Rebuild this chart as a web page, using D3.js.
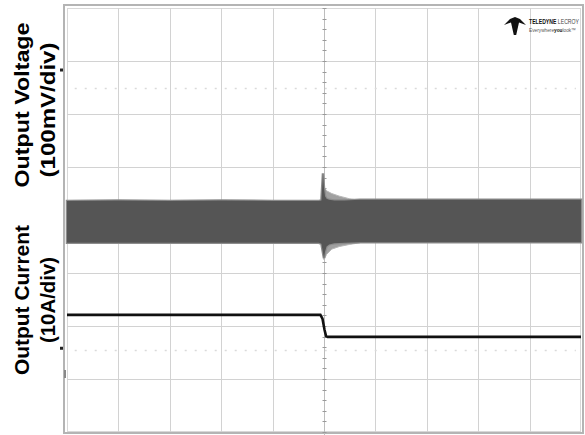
<!DOCTYPE html>
<meta charset="utf-8">
<style>
body { margin: 0; background: #fff; }
.title { font-family: Arial, "Liberation Sans", sans-serif; font-weight: bold; font-size: 20px; fill: #000; }
.grid line { stroke: #d2d2d2; stroke-width: 1px; }
.logo { font-family: Arial, "Liberation Sans", sans-serif; }
</style>
<svg width="585" height="435"></svg>
<script src="https://cdn.jsdelivr.net/npm/d3@7"></script>
<script>

// time in divisions (10 div across), voltage in mV (100 mV/div), current in A (10 A/div)
var voltTime = [0, 1, 2, 3, 4, 4.9, 4.95, 4.98, 5.0, 5.02, 5.05, 5.1, 5.2, 5.4, 5.7, 6, 7, 8, 9, 10];
var voltHigh = [36, 37, 36, 37, 36, 36, 37, 88, 60, 45, 40, 38, 37, 37, 38, 38, 38, 38, 38, 38];
var voltLow = [-43, -43, -43, -43, -43, -43, -45, -62, -72, -60, -50, -46, -44, -43, -42, -42, -42, -42, -42, -42];

var ringTime = [4.95, 5.0, 5.05, 5.15, 5.3, 5.5, 5.7];
var ringHigh = [36, 62, 55, 50, 45, 40, 37];
var ringLow = [-43, -75, -65, -55, -50, -46, -43];

var currTime = [0, 2, 4.93, 4.97, 5.01, 5.04, 5.07, 7, 10];
var currAmps = [20, 20, 20, 19.3, 17.2, 16.0, 15.85, 15.85, 15.85];

var voltOffset = 0;      // div
var currOffset = -3.79;  // div

var svg = d3.select("svg");

var x = d3.scaleLinear().domain([0, 10]).range([67, 581]);
var y = d3.scaleLinear().domain([-4, 4]).range([432, 8]);

function yV(mv) { return y(mv / 100 + voltOffset); }
function yI(a) { return y(a / 10 + currOffset); }

// frame
svg.append("rect")
    .attr("x", 64).attr("y", 5).attr("width", 519).attr("height", 428)
    .attr("fill", "none").attr("stroke", "#b4b4b4").attr("stroke-width", 2);
svg.append("rect")
    .attr("x", 67.5).attr("y", 8.5).attr("width", 513).attr("height", 423)
    .attr("fill", "none").attr("stroke", "#d8d8d8").attr("stroke-width", 1);

// grid
var grid = svg.append("g").attr("class", "grid");
grid.selectAll(".vx")
  .data(d3.range(1, 10).filter(function(d) { return d != 5; }))
  .enter().append("line")
    .attr("x1", function(d) { return Math.round(x(d)) + 0.5; })
    .attr("x2", function(d) { return Math.round(x(d)) + 0.5; })
    .attr("y1", y(4)).attr("y2", y(-4));
grid.selectAll(".hy")
  .data(d3.range(-3, 4).filter(function(d) { return d != 0; }))
  .enter().append("line")
    .attr("y1", function(d) { return Math.round(y(d)) + 0.5; })
    .attr("y2", function(d) { return Math.round(y(d)) + 0.5; })
    .attr("x1", x(0)).attr("x2", x(10));

// dotted reference rows
svg.selectAll(".dots")
  .data([2.5, -2.45])
  .enter().append("line")
    .attr("x1", x(0.15)).attr("x2", x(9.9))
    .attr("y1", function(d) { return Math.round(y(d)) + 0.5; })
    .attr("y2", function(d) { return Math.round(y(d)) + 0.5; })
    .attr("stroke", "#dadada").attr("stroke-width", 1.5)
    .attr("stroke-dasharray", "2,8");

// centre axes with minor ticks
var cx = Math.round(x(5)) + 0.5, cy = Math.round(y(0)) + 0.5;
svg.append("line").attr("x1", cx).attr("x2", cx).attr("y1", y(4)).attr("y2", 435)
    .attr("stroke", "#bdbdbd");
svg.append("line").attr("x1", x(0)).attr("x2", x(10)).attr("y1", cy).attr("y2", cy)
    .attr("stroke", "#bdbdbd");
svg.selectAll(".ty")
  .data(d3.range(-4, 4.01, 0.2))
  .enter().append("line")
    .attr("x1", cx - 2).attr("x2", cx + 2)
    .attr("y1", function(d) { return Math.round(y(d)) + 0.5; })
    .attr("y2", function(d) { return Math.round(y(d)) + 0.5; })
    .attr("stroke", "#9a9a9a");
svg.selectAll(".tx")
  .data(d3.range(0, 10.01, 0.2))
  .enter().append("line")
    .attr("y1", cy - 2).attr("y2", cy + 2)
    .attr("x1", function(d) { return Math.round(x(d)) + 0.5; })
    .attr("x2", function(d) { return Math.round(x(d)) + 0.5; })
    .attr("stroke", "#9a9a9a");

// voltage band and ringing
var ring = ringTime.map(function(t, i) { return {t: t, hi: ringHigh[i], lo: ringLow[i]}; });
var band = voltTime.map(function(t, i) { return {t: t, hi: voltHigh[i], lo: voltLow[i]}; });

var area = d3.area()
    .x(function(d) { return x(d.t); })
    .y0(function(d) { return yV(d.lo); })
    .y1(function(d) { return yV(d.hi); });

svg.append("path").datum(ring)
    .attr("d", area)
    .attr("fill", "#a0a0a0").attr("stroke", "#b8b8b8").attr("stroke-width", 1);

svg.append("path").datum(band)
    .attr("d", area)
    .attr("fill", "none").attr("stroke", "#8c8c8c").attr("stroke-width", 2.5);
svg.append("path").datum(band)
    .attr("d", area)
    .attr("fill", "#555555");

// current trace
var curr = currTime.map(function(t, i) { return {t: t, a: currAmps[i]}; });
svg.append("path").datum(curr)
    .attr("d", d3.line()
        .x(function(d) { return x(d.t); })
        .y(function(d) { return yI(d.a); }))
    .attr("fill", "none").attr("stroke", "#111").attr("stroke-width", 2.6);

// channel markers on left edge
svg.selectAll(".mark")
  .data([2.83, -2.42])
  .enter().append("rect")
    .attr("x", 60).attr("y", function(d) { return y(d) - 1.5; })
    .attr("width", 3).attr("height", 3).attr("fill", "#222");
svg.append("rect").attr("x", 64).attr("y", 370).attr("width", 2).attr("height", 8).attr("fill", "#888");

// axis titles
var titles = [
  {t: "Output Voltage", x: 22, y: 105, len: 165},
  {t: "(100mV/div)", x: 48, y: 110, len: 135},
  {t: "Output Current", x: 22, y: 300, len: 150},
  {t: "(10A/div)", x: 48, y: 300, len: 86}
];
svg.selectAll(".title")
  .data(titles)
  .enter().append("text")
    .attr("class", "title")
    .attr("text-anchor", "middle")
    .attr("dominant-baseline", "central")
    .attr("textLength", function(d) { return d.len; })
    .attr("lengthAdjust", "spacingAndGlyphs")
    .attr("transform", function(d) { return "translate(" + d.x + "," + d.y + ") rotate(-90)"; })
    .text(function(d) { return d.t; });

// logo
var logo = svg.append("g").attr("transform", "translate(504,17)");
logo.append("path")
    .attr("d", "M0,8 L6,2 L11,0 L16,2 L22,8 L15,5.5 L12.2,18 L9.8,18 L7,5.5 Z")
    .attr("fill", "#111");
var line1 = logo.append("text").attr("class", "logo")
    .attr("x", 25).attr("y", 7)
    .attr("font-size", 7).attr("fill", "#444")
    .attr("textLength", 50).attr("lengthAdjust", "spacingAndGlyphs");
line1.append("tspan").attr("font-weight", "bold").attr("fill", "#111").text("TELEDYNE");
line1.append("tspan").text(" LECROY");
var line2 = logo.append("text").attr("class", "logo")
    .attr("x", 25).attr("y", 15)
    .attr("font-size", 5.5).attr("fill", "#555")
    .attr("textLength", 47).attr("lengthAdjust", "spacingAndGlyphs");
line2.append("tspan").text("Everywhere");
line2.append("tspan").attr("font-weight", "bold").attr("fill", "#111").text("you");
line2.append("tspan").text("look\u2122");

</script>
